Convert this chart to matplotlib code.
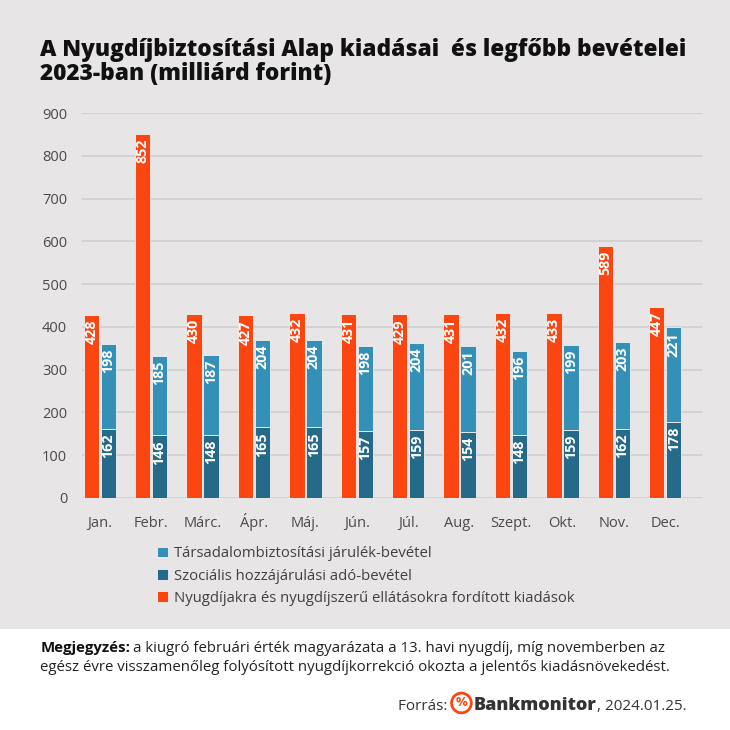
import matplotlib

matplotlib.use("Agg")
import matplotlib.pyplot as plt
from matplotlib.patches import Rectangle, Circle
import numpy as np

months = ["Jan.", "Febr.", "Márc.", "Ápr.", "Máj.", "Jún.", "Júl.", "Aug.",
          "Szept.", "Okt.", "Nov.", "Dec."]
expenses = [428, 852, 430, 427, 432, 431, 429, 431, 432, 433, 589, 447]
social_tax = [162, 146, 148, 165, 165, 157, 159, 154, 148, 159, 162, 178]
contrib = [198, 185, 187, 204, 204, 198, 204, 201, 196, 199, 203, 221]

lbl_contrib = "Társadalombiztosítási járulék-bevétel"
lbl_social = "Szociális hozzájárulási adó-bevétel"
lbl_exp = "Nyugdíjakra és nyugdíjszerű ellátásokra fordított kiadások"

ORANGE = "#fc4612"
LIGHT = "#3590b8"
DARK = "#256a88"
BG = "#e7e5e6"
FONT = ["Open Sans", "DejaVu Sans"]

plt.rcParams["font.family"] = FONT

fig = plt.figure(figsize=(7.3, 7.3), dpi=100, facecolor="white")
fig.patches.append(Rectangle((0, 0.138), 1, 0.862, transform=fig.transFigure,
                             facecolor=BG, edgecolor="none", zorder=-5))

ax = fig.add_axes([0.112, 0.318, 0.850, 0.527])
ax.set_facecolor(BG)
ax.patch.set_alpha(0)

x = np.arange(len(months))
w = 0.30
off = 0.165
edge = dict(edgecolor="#f2f2f2", linewidth=0.6)
b_exp = ax.bar(x - off, expenses, w, color=ORANGE, zorder=3, **edge)
b_soc = ax.bar(x + off, social_tax, w, color=DARK, zorder=3, **edge)
b_con = ax.bar(x + off, contrib, w, bottom=social_tax, color=LIGHT, zorder=3, **edge)

lab = dict(rotation=90, color="white", fontweight="bold", fontsize=10.3,
           ha="center", va="top", zorder=4)
for i in range(len(months)):
    ax.text(x[i] - off, expenses[i] - 11, str(expenses[i]), **lab)
    ax.text(x[i] + off, social_tax[i] - 11, str(social_tax[i]), **lab)
    ax.text(x[i] + off, social_tax[i] + contrib[i] - 11, str(contrib[i]), **lab)

ax.set_ylim(0, 900)
ax.set_xlim(-0.35, 11.72)
ax.set_yticks(range(0, 901, 100))
ax.set_xticks(x)
ax.set_xticklabels(months)
ax.tick_params(axis="both", length=0, labelsize=10.5, colors="#4a4a4a")
ax.tick_params(axis="y", pad=10.5)
ax.tick_params(axis="x", pad=21)
for t_ in ax.get_xticklabels():
    t_.set_verticalalignment("baseline")
ax.grid(axis="y", color="#d0cecf", linewidth=1.2, zorder=1)
for s in ax.spines.values():
    s.set_visible(False)

leg = fig.legend([b_con, b_soc, b_exp], [lbl_contrib, lbl_social, lbl_exp],
                 loc="upper left", bbox_to_anchor=(0.205, 0.262), frameon=False,
                 fontsize=10.7, handlelength=0.75, handleheight=0.75,
                 handletextpad=0.4, labelspacing=0.5, borderpad=0,
                 labelcolor="#404040")

fig.text(0.055, 0.948, "A Nyugdíjbiztosítási Alap kiadásai  és legfőbb bevételei\n"
         "2023-ban (milliárd forint)", fontsize=16.3, fontweight=800,
         color="#111111", va="top", ha="left", linespacing=1.0)

# note in white footer
r = fig.canvas.get_renderer()
fs = 10.8
t1 = fig.text(0.055, 0.107, "Megjegyzés:", fontsize=fs, fontweight="bold",
              color="#111111", va="baseline")
bb = t1.get_window_extent(renderer=r)
fig.text(bb.x1 / fig.bbox.width + 0.004, 0.107,
         "a kiugró februári érték magyarázata a 13. havi nyugdíj, míg novemberben az",
         fontsize=fs, color="#222222", va="baseline")
fig.text(0.055, 0.081,
         "egész évre visszamenőleg folyósított nyugdíjkorrekció okozta a jelentős kiadásnövekedést.",
         fontsize=fs, color="#222222", va="baseline")

# source line
ys = 0.028
t = fig.text(0.545, ys, "Forrás: ", fontsize=11, color="#333333", va="baseline")
xx = t.get_window_extent(renderer=r).x1 / fig.bbox.width
cx = xx + 0.014
circ = Circle((cx, ys + 0.009), 0.0135, transform=fig.transFigure,
              facecolor="white", edgecolor=ORANGE, linewidth=2, zorder=5)
fig.patches.append(circ)
fig.text(cx, ys + 0.009, "%", fontsize=9.5, fontweight="bold", color=ORANGE,
         ha="center", va="center", zorder=6)
t = fig.text(cx + 0.017, ys, "Bankmonitor", fontsize=13, fontweight=800,
             color="#333333", va="baseline")
xx = t.get_window_extent(renderer=r).x1 / fig.bbox.width
fig.text(xx, ys, ", 2024.01.25.", fontsize=11, color="#333333", va="baseline")

fig.savefig("out.png", dpi=100, facecolor="white")
